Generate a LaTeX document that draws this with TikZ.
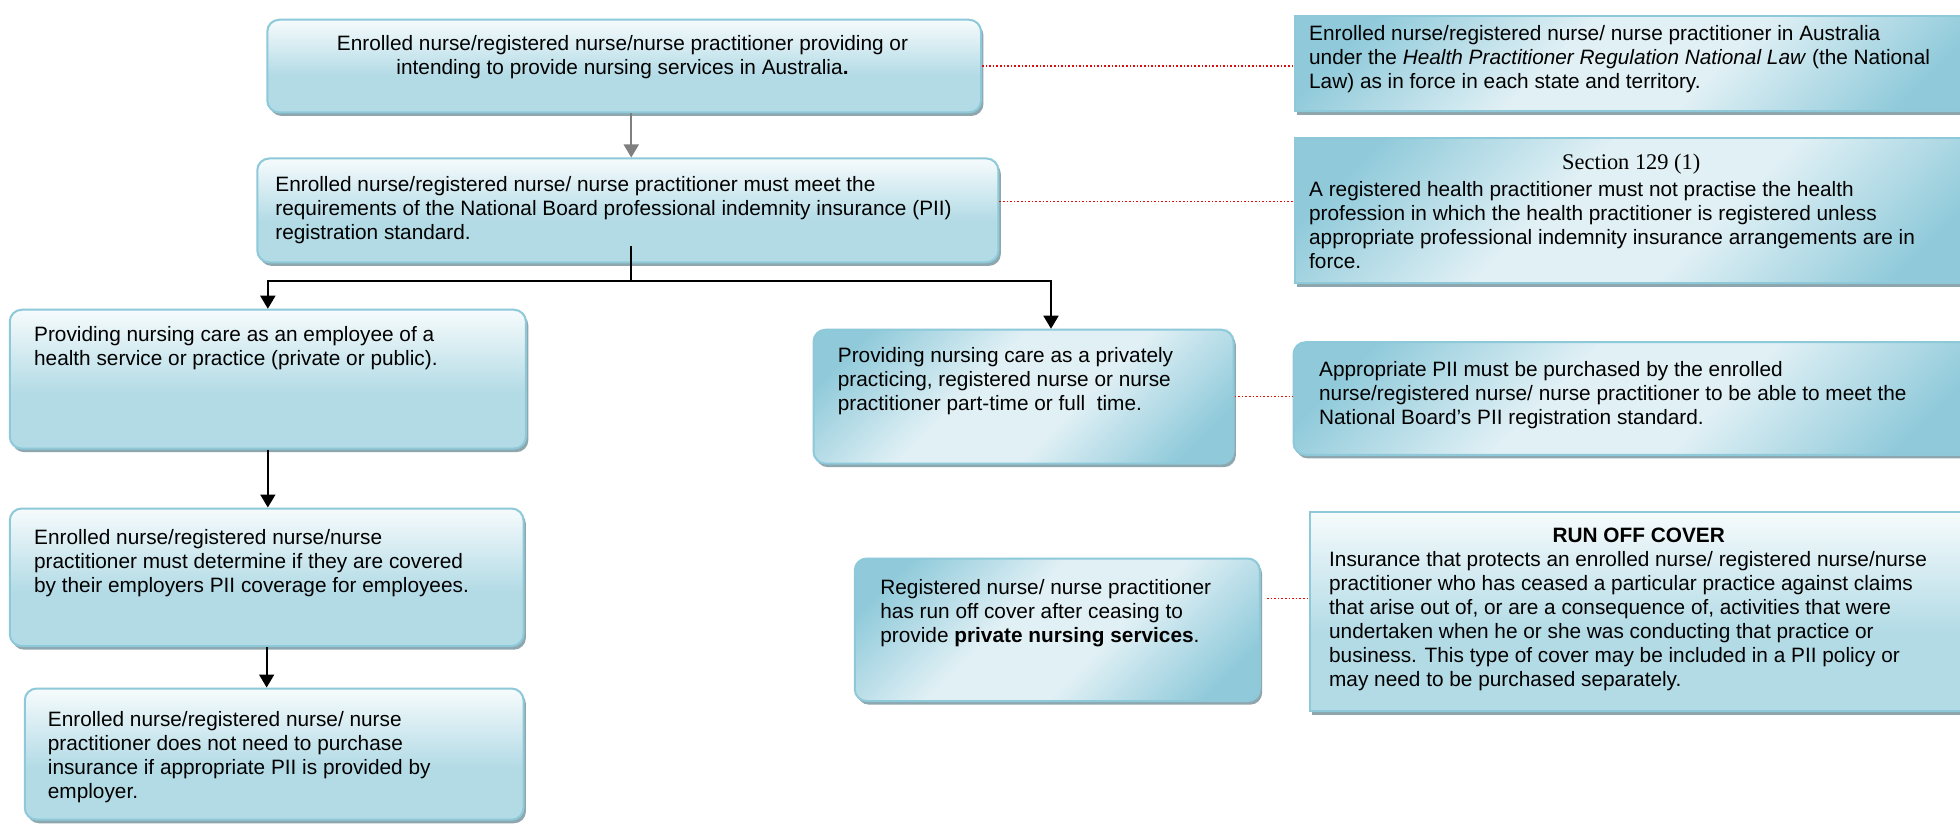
\documentclass[tikz,border=0pt]{standalone}
\usepackage{fontspec}
\setmainfont{Liberation Sans}
\newfontfamily\sectfont{Liberation Serif}
\usetikzlibrary{positioning,shadows,arrows.meta,calc}
\definecolor{boxtop}{HTML}{F6FBFC}
\definecolor{boxbot}{HTML}{B3DBE6}
\definecolor{boxdark}{HTML}{90CADA}
\definecolor{boxmid}{HTML}{E0F0F5}
\definecolor{boxline}{HTML}{8DC9D9}
\definecolor{boxshade}{HTML}{8EA7AF}
\definecolor{linkred}{HTML}{DD1010}
\definecolor{arrowgray}{HTML}{7F7F7F}
\pgfdeclareverticalshading{flatshade}{100bp}{color(0bp)=(boxbot); color(25bp)=(boxbot);
  color(45bp)=(boxbot); color(75bp)=(boxtop); color(100bp)=(boxtop)}
\pgfdeclareverticalshading{sheenshade}{100bp}{color(0bp)=(boxdark); color(22bp)=(boxdark);
  color(42bp)=(boxmid); color(58bp)=(boxmid); color(78bp)=(boxdark); color(100bp)=(boxdark)}

\begin{document}
\begin{tikzpicture}[x=0.625pt,y=-0.625pt,
  box/.style={draw=boxline, line width=1pt, anchor=north west, inner sep=0pt,
    general shadow={fill=boxshade, shadow xshift=1.2pt, shadow yshift=-1.8pt}},
  roundbox/.style={box, rounded corners=6pt},
  flat/.style={shading=flatshade},
  sheen/.style={shading=sheenshade, shading angle=45},
  txt/.style={anchor=north west, inner sep=0pt, align=left, font=\fontsize{10.4}{12}\selectfont},
  link/.style={linkred, densely dotted, line width=0.8pt},
  flow/.style={line width=0.9pt, -{Triangle[width=7.5pt,length=6.5pt]}}]
  \fill[white] (0,0) rectangle (1568,661);
  \useasboundingbox (0,0) rectangle (1568,661);

  % boxes
  \node[roundbox, flat, minimum width=356.9pt, minimum height=46.3pt] (intend) at (213,15) {};
  \node[roundbox, flat, minimum width=370.6pt, minimum height=51.9pt] (meet) at (205,126) {};
  \node[box, sheen, minimum width=340.6pt, minimum height=47.5pt] (natlaw) at (1035,12) {};
  \node[box, sheen, minimum width=340.6pt, minimum height=72.5pt] (sect) at (1035,110) {};
  \node[roundbox, flat, minimum width=258.1pt, minimum height=69.4pt] (employee) at (7,247) {};
  \node[roundbox, sheen, minimum width=210pt, minimum height=66.9pt] (private) at (650,263) {};
  \node[roundbox, sheen, minimum width=340.6pt, minimum height=56.3pt] (purchase) at (1034,273) {};
  \node[roundbox, flat, minimum width=256.9pt, minimum height=68.8pt] (determine) at (7,406) {};
  \node[roundbox, sheen, minimum width=202.5pt, minimum height=71.3pt] (runoff) at (683,446) {};
  \node[box, flat, minimum width=334.4pt, minimum height=99.4pt] (runoffdef) at (1047,409) {};
  \node[roundbox, flat, minimum width=249.4pt, minimum height=65.6pt] (noneed) at (19,550) {};

  % texts
  \node[txt, anchor=north, align=center] (intend-t) at (498,28)
    {Enrolled nurse/registered nurse/nurse practitioner providing or\\
     intending to provide nursing services in Australia\textbf{.}};
  \node[txt] (meet-t) at (220,141)
    {Enrolled nurse/registered nurse/ nurse practitioner must meet the\\
     requirements of the National Board professional indemnity insurance (PII)\\
     registration standard.};
  \node[txt] (natlaw-t) at (1047,20)
    {Enrolled nurse/registered nurse/ nurse practitioner in Australia\\
     under the \textit{Health Practitioner Regulation National Law} (the National\\
     Law) as in force in each state and territory.};
  \node[inner sep=0pt, font=\sectfont\fontsize{11.2}{12}\selectfont] (sect-h) at (1305,131) {Section 129 (1)};
  \node[txt] (sect-t) at (1047,145)
    {A registered health practitioner must not practise the health\\
     profession in which the health practitioner is registered unless\\
     appropriate professional indemnity insurance arrangements are in\\
     force.};
  \node[txt] (employee-t) at (27,261)
    {Providing nursing care as an employee of a\\
     health service or practice (private or public).};
  \node[txt] (private-t) at (670,278)
    {Providing nursing care as a privately\\
     practicing, registered nurse or nurse\\
     practitioner part-time or full~ time.};
  \node[txt] (purchase-t) at (1055,289)
    {Appropriate PII must be purchased by the enrolled\\
     nurse/registered nurse/ nurse practitioner to be able to meet the\\
     National Board’s PII registration standard.};
  \node[txt] (determine-t) at (27,423)
    {Enrolled nurse/registered nurse/nurse\\
     practitioner must determine if they are covered\\
     by their employers PII coverage for employees.};
  \node[txt] (runoff-t) at (704,463)
    {Registered nurse/ nurse practitioner\\
     has run off cover after ceasing to\\
     provide \textbf{private nursing services}.};
  \node[txt, anchor=center, font=\bfseries\fontsize{10.4}{12}\selectfont] (runoffdef-h) at (1311,428) {RUN OFF COVER};
  \node[txt] (runoffdef-t) at (1063,441)
    {Insurance that protects an enrolled nurse/ registered nurse/nurse\\
     practitioner who has ceased a particular practice against claims\\
     that arise out of, or are a consequence of, activities that were\\
     undertaken when he or she was conducting that practice or\\
     business. This type of cover may be included in a PII policy or\\
     may need to be purchased separately.};
  \node[txt] (noneed-t) at (38,569)
    {Enrolled nurse/registered nurse/ nurse\\
     practitioner does not need to purchase\\
     insurance if appropriate PII is provided by\\
     employer.};

  % connectors
  \coordinate (trunk) at (505,0);
  \coordinate (split) at (505,225);
  \draw[flow, arrowgray] (intend.south -| trunk) -- (meet.north -| trunk);
  \draw[line width=0.9pt] ($(meet.south -| split)+(0,-14)$) -- (split);
  \draw[flow] (split) -| (employee.north);
  \draw[flow] (split) -| ($(private.north)+(22,0)$);
  \draw[flow] (employee.south) -- (employee.south |- determine.north);
  \draw[flow] (determine.south) -- (determine.south |- noneed.north);

  \coordinate (meetlink) at ($(meet.east)+(0,-7)$);
  \coordinate (runlink) at ($(runoff.east)+(5,-25)$);
  \draw[link] (intend.east) -- (intend.east -| natlaw.west);
  \draw[link] (meetlink) -- (meetlink -| sect.west);
  \draw[link] (private.east) -- (private.east -| purchase.west);
  \draw[link] (runlink) -- (runlink -| runoffdef.west);
\end{tikzpicture}
\end{document}
